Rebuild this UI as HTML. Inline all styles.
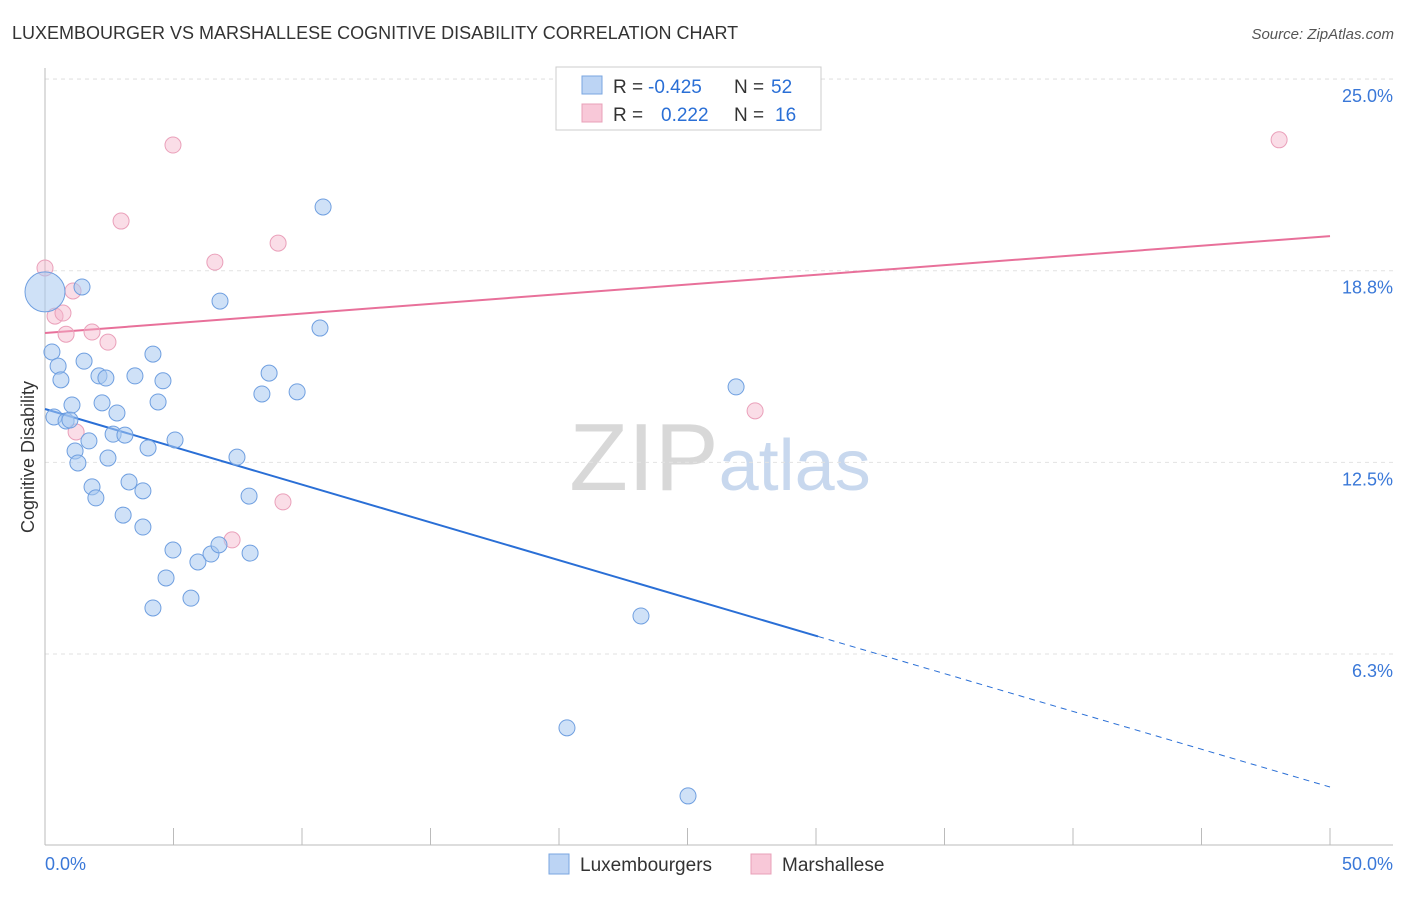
<!DOCTYPE html>
<html><head><meta charset="utf-8">
<style>
body{margin:0;background:#fff;font-family:"Liberation Sans",sans-serif;}
svg text{font-family:"Liberation Sans",sans-serif;}
</style></head>
<body>
<svg id="chart" width="1406" height="892" xmlns="http://www.w3.org/2000/svg">
<text x="12" y="39" font-size="18" fill="#333">LUXEMBOURGER VS MARSHALLESE COGNITIVE DISABILITY CORRELATION CHART</text>
<text x="1394" y="39" font-size="15" fill="#555" text-anchor="end" font-style="italic">Source: ZipAtlas.com</text>
<text x="720" y="490" font-size="96" text-anchor="middle" font-family="Liberation Serif" fill="#ddd"><tspan fill="#d8d8d8">ZIP</tspan><tspan fill="#c8d8ee" font-family="Liberation Sans" font-size="72">atlas</tspan></text>
<text transform="translate(34,457) rotate(-90)" font-size="18" fill="#333" text-anchor="middle">Cognitive Disability</text>
<g id="grid"></g>
<g id="axes"></g>
<g id="lines"></g>
<g id="points"></g>
<g>
<rect x="556" y="67" width="265" height="63" fill="#fff" stroke="#ccc"/>
<rect x="582" y="76" width="20" height="18" fill="#bcd4f4" stroke="#7aa6e0"/>
<rect x="582" y="104" width="20" height="18" fill="#f8c8d8" stroke="#e8a0b8"/>
<text y="93" font-size="19" fill="#333"><tspan x="613">R =</tspan><tspan x="648" fill="#2a6fd6">-0.425</tspan><tspan x="734">N =</tspan><tspan x="771" fill="#2a6fd6">52</tspan></text>
<text y="121" font-size="19" fill="#333"><tspan x="613">R =</tspan><tspan x="661" fill="#2a6fd6">0.222</tspan><tspan x="734">N =</tspan><tspan x="775" fill="#2a6fd6">16</tspan></text>
</g>
<g>
<rect x="549" y="854" width="20" height="20" fill="#bcd4f4" stroke="#7aa6e0"/>
<text x="580" y="871" font-size="19" fill="#333">Luxembourgers</text>
<rect x="751" y="854" width="20" height="20" fill="#f8c8d8" stroke="#e8a0b8"/>
<text x="782" y="871" font-size="19" fill="#333">Marshallese</text>
</g>
</svg>
<script>
const yTicks=[6.25,12.5,18.75,25];
const yTickLabels=["6.3%","12.5%","18.8%","25.0%"];
const xTicks=[0,5,10,15,20,25,30,35,40,45,50];
const blueX=[0,0.27,0.51,0.62,0.35,0.82,0.97,1.05,1.17,1.28,1.52,1.44,1.71,1.83,1.98,2.10,2.22,2.37,2.45,2.65,2.80,3.11,3.04,3.27,3.50,3.81,3.81,4.01,4.20,4.20,4.40,4.59,4.71,4.98,5.06,5.68,5.95,6.46,6.77,6.81,7.47,7.98,7.94,8.44,8.72,9.81,10.70,10.82,20.31,23.19,25.02,26.89];
const blueY=[18.06,16.10,15.64,15.19,13.98,13.85,13.88,14.37,12.87,12.48,15.80,18.22,13.20,11.70,11.34,15.32,14.44,15.25,12.64,13.42,14.11,13.39,10.78,11.86,15.32,11.57,10.39,12.97,16.03,7.75,14.47,15.16,8.73,9.64,13.23,8.07,9.25,9.51,9.81,17.76,12.67,9.54,11.40,14.73,15.41,14.80,16.88,20.83,3.84,7.49,1.62,14.96];
const pinkX=[0,0.39,0.70,0.82,1.09,1.21,1.83,2.45,2.96,4.98,6.61,7.28,9.07,9.26,27.63,48.02];
const pinkY=[18.84,17.27,17.37,16.68,18.09,13.49,16.75,16.42,20.37,22.85,19.03,9.97,19.65,11.21,14.18,23.02];
const blueTrend=[14.24,1.91];
const blueSolidEnd=30.08;
const pinkTrend=[16.72,19.88];
const NS="http://www.w3.org/2000/svg";
const X=v=>45+v*25.7, Y=v=>845.6-v*30.66;
function mk(tag,attrs,parent){const e=document.createElementNS(NS,tag);for(const k in attrs)e.setAttribute(k,attrs[k]);document.getElementById(parent).appendChild(e);return e;}
yTicks.forEach((t,i)=>{
 const g=mk('line',{x1:45,x2:1393,y1:Y(t),y2:Y(t),stroke:'#e2e2e2','stroke-dasharray':'4,4'},'grid');
 
 
 const tx=mk('text',{x:1393,y:Y(t)+23,'font-size':18,fill:'#3a78d8','text-anchor':'end'},'grid');
 tx.textContent=yTickLabels[i];
 
 
});
const topGrid=mk('line',{x1:45,x2:1393,y1:79,y2:79,stroke:'#e2e2e2','stroke-dasharray':'4,4'},'grid');


const ya=mk('line',{x1:45,x2:45,y1:68,y2:845,stroke:'#bbb'},'axes');


const xa=mk('line',{x1:45,x2:1393,y1:845,y2:845,stroke:'#bbb'},'axes');


xTicks.forEach(t=>{
 const l=mk('line',{x1:X(t),x2:X(t),y1:828,y2:845,stroke:'#bbb'},'axes');
 
 
});
const xl0=mk('text',{x:45,y:870,'font-size':18,fill:'#3a78d8'},'axes');xl0.textContent='0.0%';


const xl1=mk('text',{x:1393,y:870,'font-size':18,fill:'#3a78d8','text-anchor':'end'},'axes');xl1.textContent='50.0%';


pinkX.forEach((x,i)=>{
 const c=mk('circle',{cx:X(x),cy:Y(pinkY[i]),r:8,fill:'rgba(244,180,202,0.45)',stroke:'#eaa0ba','stroke-width':1},'points');
 
 
});
blueX.forEach((x,i)=>{
 const c=mk('circle',{cx:X(x),cy:Y(blueY[i]),r:i===0?20:8,fill:'rgba(168,200,240,0.55)',stroke:'#6f9fe0','stroke-width':1},'points');
 
 
});
const bAt=x=>blueTrend[0]+(blueTrend[1]-blueTrend[0])*x/50;
const bl=mk('line',{x1:X(0),y1:Y(bAt(0)),x2:X(blueSolidEnd),y2:Y(bAt(blueSolidEnd)),stroke:'#2a6fd6','stroke-width':2},'lines');


const bd=mk('line',{x1:X(blueSolidEnd),y1:Y(bAt(blueSolidEnd)),x2:X(50),y2:Y(bAt(50)),stroke:'#2a6fd6','stroke-width':1,'stroke-dasharray':'6,5'},'lines');


const pl=mk('line',{x1:X(0),y1:Y(pinkTrend[0]),x2:X(50),y2:Y(pinkTrend[1]),stroke:'#e8709a','stroke-width':2},'lines');


</script>
</body></html>
